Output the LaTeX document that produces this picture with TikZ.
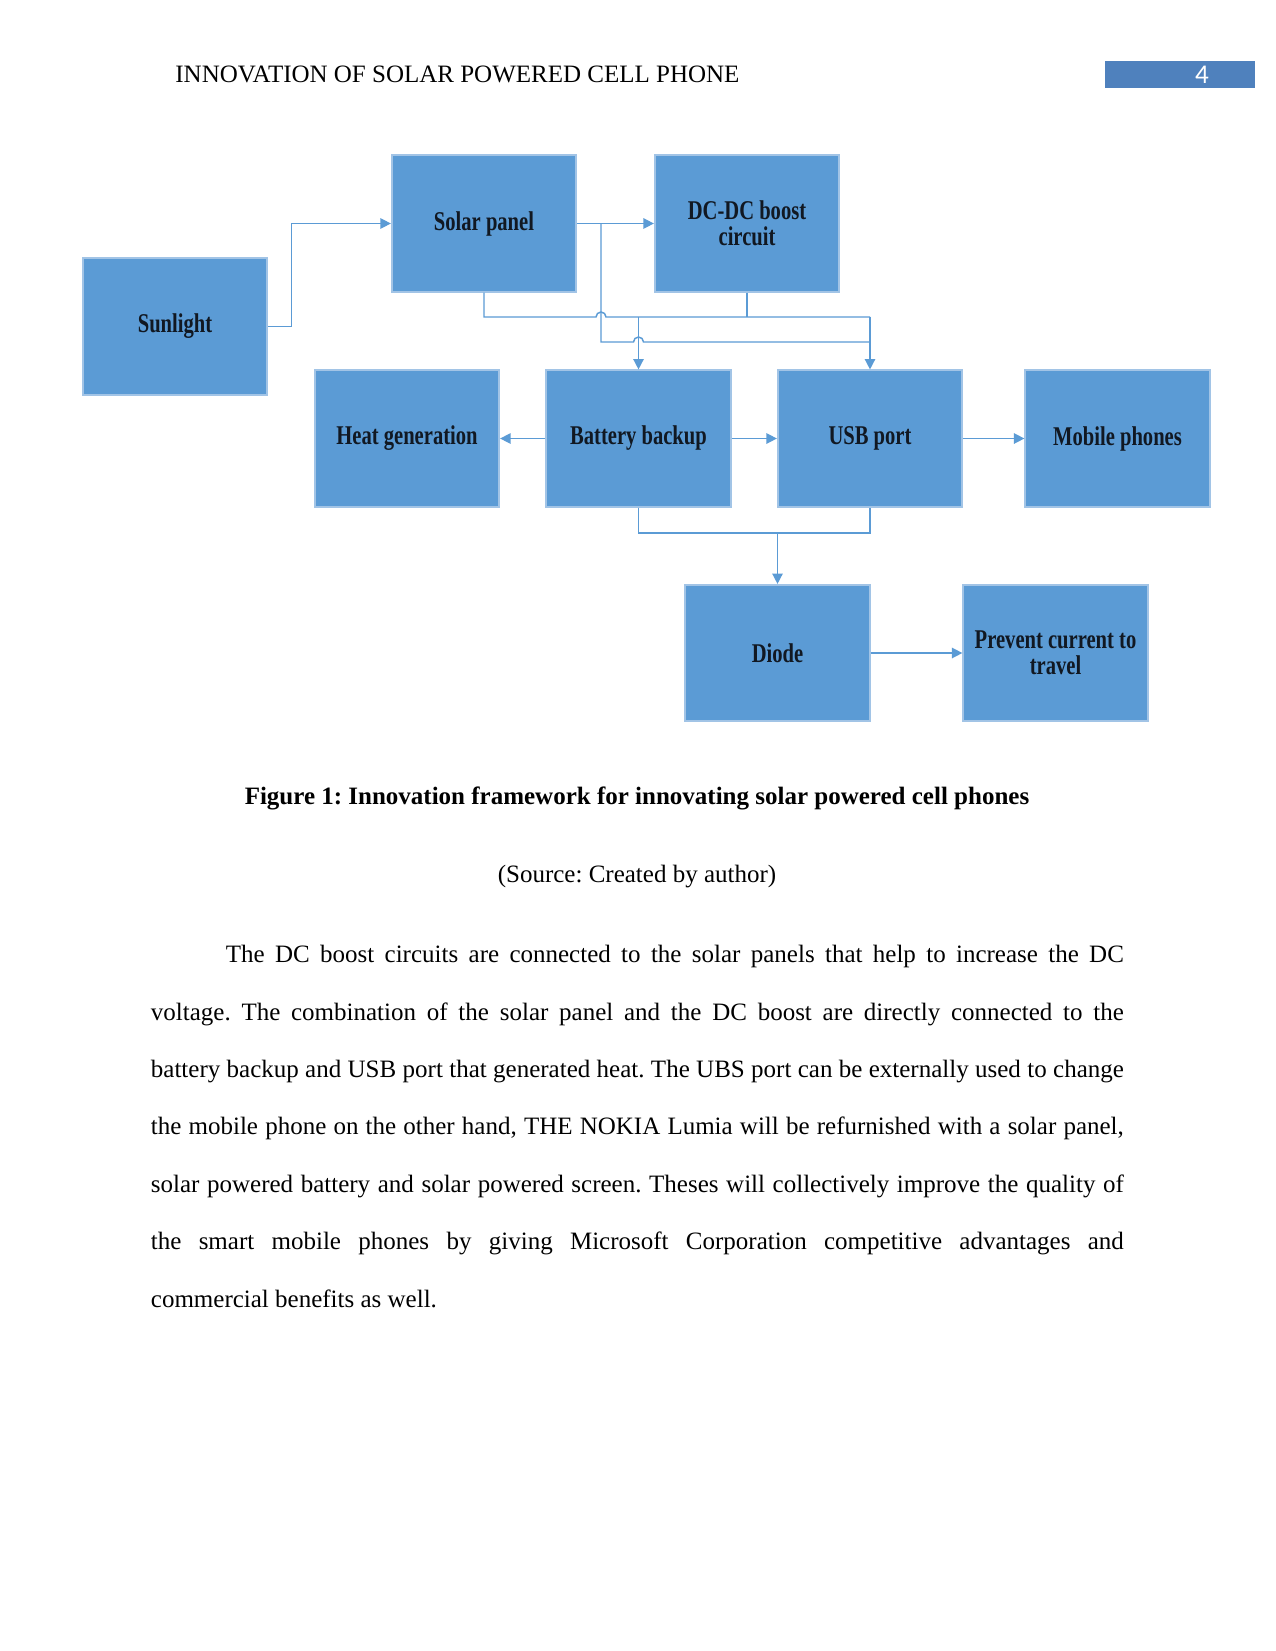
\documentclass[tikz,border=0pt]{standalone}
\usepackage{fontspec}
\setmainfont{Liberation Serif}
\newfontfamily\boxfont{Liberation Serif}[FakeStretch=0.76]
\newfontfamily\numfont{Carlito}
\usetikzlibrary{arrows.meta}
\definecolor{boxblue}{HTML}{5B9BD5}
\definecolor{boxedge}{HTML}{A2C4E6}
\definecolor{hdrblue}{HTML}{4F81BD}
\definecolor{lblack}{HTML}{111822}
\frenchspacing
\begin{document}
\begin{tikzpicture}[x=0.48pt,y=-0.48pt,
  blk/.style={draw=boxedge, line width=0.8pt, fill=boxblue, minimum width=88.6pt, minimum height=65.5pt,
    inner sep=2pt, align=center, text=lblack, font=\boxfont\bfseries\fontsize{13}{12.6}\selectfont},
  conn/.style={draw=boxblue, line width=0.7pt},
  arr/.style={conn, -{Triangle[length=5pt,width=5pt]}},
  txt/.style={inner sep=0pt, font=\frenchspacing\fontsize{12}{14}\selectfont}]
\useasboundingbox (0,0) rectangle (1275,1651);
\fill[white] (0,0) rectangle (1275,1651);

% header
\node[txt, anchor=base west] (hdr) at (175,83) {INNOVATION OF SOLAR POWERED CELL PHONE};
\fill[hdrblue] (1105,61) rectangle (1255,88);
\node[inner sep=0pt, text=white, font=\numfont\fontsize{13}{14}\selectfont] (pg) at (1202,75) {4};

% boxes
\node[blk] (sun) at (175,326.5) {Sunlight};
\node[blk] (solar) at (484,223.5) {Solar panel};
\node[blk] (dcdc) at (747,223.5) {DC-DC boost\\circuit};
\node[blk] (heat) at (407,438.5) {Heat generation};
\node[blk] (batt) at (638.5,438.5) {Battery backup};
\node[blk] (usb) at (870,438.5) {USB port};
\node[blk] (mob) at (1117.5,438.5) {Mobile phones};
\node[blk] (diode) at (777.5,653) {Diode};
\node[blk] (prev) at (1055.5,653) {Prevent current to\\travel};

% helper coordinates
\coordinate (y1) at (0,317);
\coordinate (y2) at (0,342);
\coordinate (y3) at (0,533);
\coordinate (j1) at (601,223.5);

% connectors
\draw[arr] (sun.east) -- ++(23.6,0) |- (solar.west);
\draw[arr] (solar.east) -- (dcdc.west);
\draw[conn] (solar.south) |- (596,317) arc[start angle=180,end angle=0,radius=2.4pt] -- (usb.north |- y1);
\draw[conn] (dcdc.south) -- (dcdc.south |- y1);
\draw[arr] (batt.north |- y1) -- (batt.north);
\draw[arr] (usb.north |- y1) -- (usb.north);
\draw[conn] (j1) -- (601,342) -- (633.5,342) arc[start angle=180,end angle=0,radius=2.4pt] -- (usb.north |- y2);
\draw[arr] (batt.west) -- (heat.east);
\draw[arr] (batt.east) -- (usb.west);
\draw[arr] (usb.east) -- (mob.west);
\draw[conn] (batt.south) |- (usb.south |- y3) -- (usb.south);
\draw[arr] (diode.north |- y3) -- (diode.north);
\draw[arr] (diode.east) -- (prev.west);

% caption
\node[txt, anchor=base, font=\frenchspacing\bfseries\fontsize{12}{14}\selectfont] (cap) at (637,804) {Figure 1: Innovation framework for innovating solar powered cell phones};
\node[txt, anchor=base] (src) at (637,882) {(Source: Created by author)};

% paragraph
\node[txt, anchor=north west, text width=467pt, align=justify, font=\frenchspacing\fontsize{12}{27.55}\selectfont] (para) at (150.5,945) {%
\hspace*{36pt}The DC boost circuits are connected to the solar panels that help to increase the DC\linebreak
voltage. The combination of the solar panel and the DC boost are directly connected to the\linebreak
battery backup and USB port that generated heat. The UBS port can be externally used to change\linebreak
the mobile phone on the other hand, THE NOKIA Lumia will be refurnished with a solar panel,\linebreak
solar powered battery and solar powered screen. Theses will collectively improve the quality of\linebreak
the smart mobile phones by giving Microsoft Corporation competitive advantages and\linebreak
commercial benefits as well.};
\end{tikzpicture}
\end{document}
